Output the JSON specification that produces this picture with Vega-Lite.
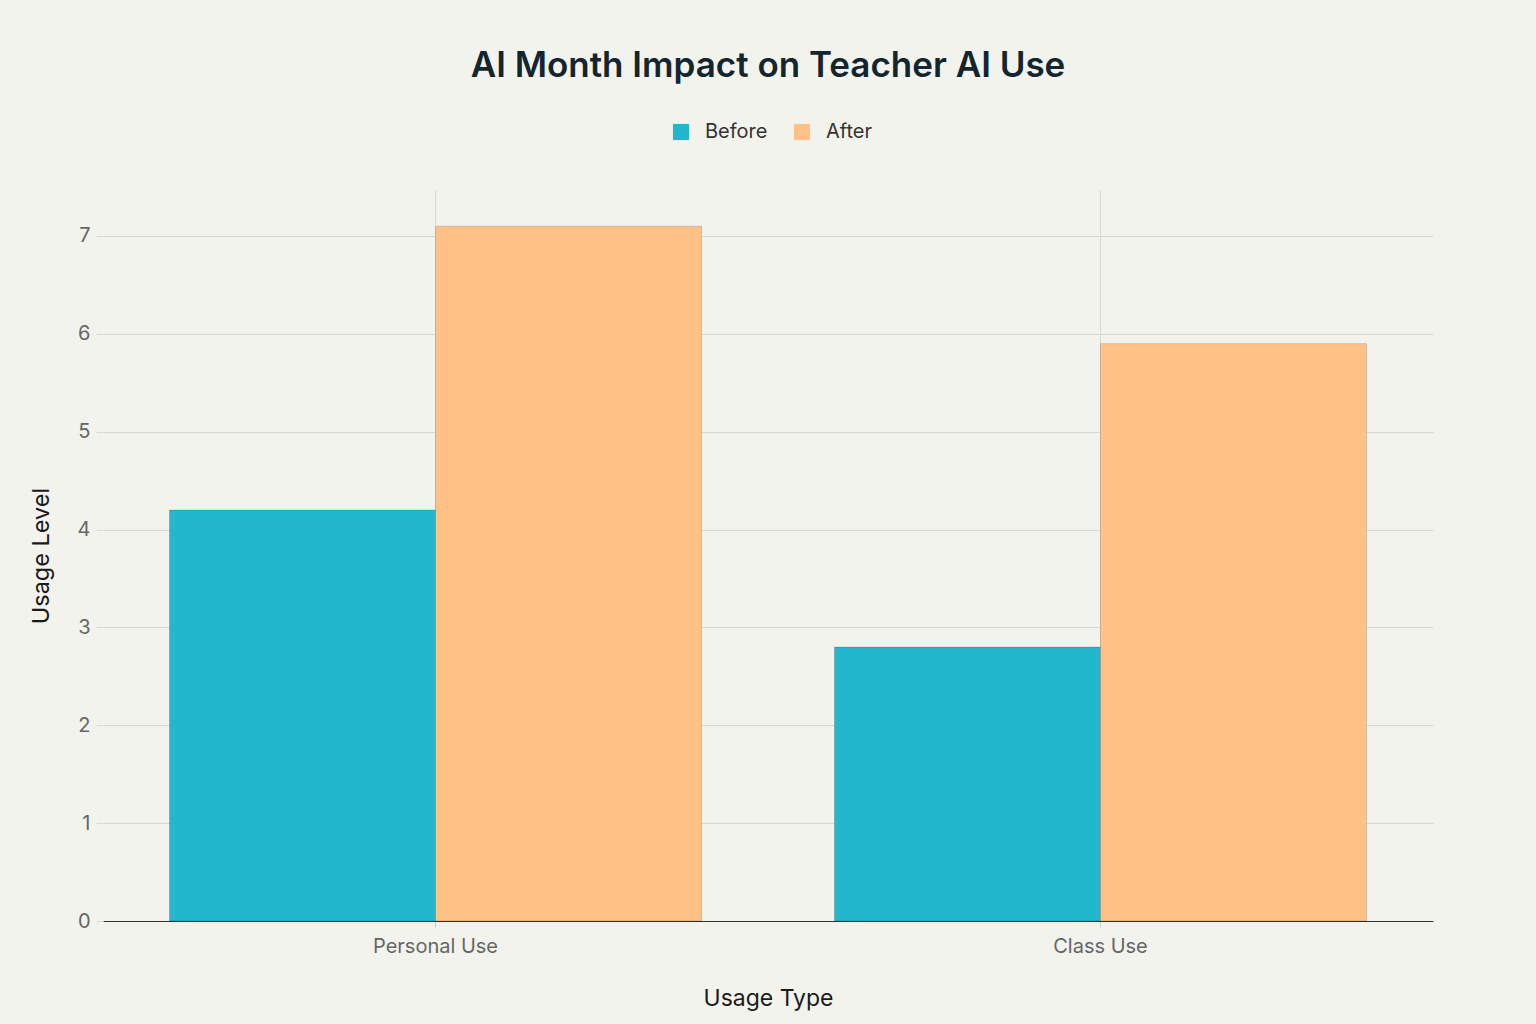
{
  "$schema": "https://vega.github.io/schema/vega-lite/v6.json",
  "width": 1330,
  "height": 731,
  "autosize": {"type": "none"},
  "padding": {"left": 103, "top": 190, "right": 103, "bottom": 103},
  "background": "#F3F3EE",
  "title": {
    "text": "AI Month Impact on Teacher AI Use",
    "fontSize": 35,
    "font": "Inter",
    "fontWeight": 600,
    "color": "#13252E",
    "anchor": "middle",
    "frame": "group",
    "offset": 38
  },
  "data": {
    "values": [
      {"type": "Personal Use", "period": "Before", "value": 4.2},
      {"type": "Personal Use", "period": "After", "value": 7.1},
      {"type": "Class Use", "period": "Before", "value": 2.8},
      {"type": "Class Use", "period": "After", "value": 5.9}
    ]
  },
  "mark": {"type": "bar", "stroke": "#000000", "strokeOpacity": 0.15, "strokeWidth": 1},
  "encoding": {
    "x": {
      "field": "type",
      "type": "nominal",
      "sort": ["Personal Use", "Class Use"],
      "scale": {"paddingInner": 0.2, "paddingOuter": 0.1},
      "axis": {
        "title": "Usage Type",
        "labelAngle": 0,
        "labelFontSize": 20,
        "labelColor": "#666666",
        "labelPadding": 9,
        "titleFontSize": 23,
        "titleFontWeight": 400,
        "titleColor": "#1A1A1A",
        "titlePadding": 31,
        "grid": true,
        "gridColor": "#D8D8D3",
        "domainColor": "#333333",
        "tickColor": "#CCCCCC",
        "tickSize": 6
      }
    },
    "xOffset": {"field": "period", "sort": ["Before", "After"]},
    "y": {
      "field": "value",
      "type": "quantitative",
      "scale": {"domain": [0, 7.47], "nice": false},
      "axis": {
        "title": "Usage Level",
        "values": [0, 1, 2, 3, 4, 5, 6, 7],
        "labelFontSize": 20,
        "labelColor": "#666666",
        "labelPadding": 6,
        "titleFontSize": 23.5,
        "titleFontWeight": 400,
        "titleColor": "#1A1A1A",
        "titlePadding": 24,
        "domain": false,
        "gridColor": "#D8D8D3",
        "tickColor": "#D8D8D3",
        "tickSize": 7
      }
    },
    "color": {
      "field": "period",
      "type": "nominal",
      "sort": ["Before", "After"],
      "scale": {"domain": ["Before", "After"], "range": ["#21B8CE", "#FFC185"]},
      "legend": {
        "title": null,
        "orient": "none",
        "direction": "horizontal",
        "legendX": 568,
        "legendY": -68,
        "symbolType": "square",
        "symbolSize": 260,
        "symbolStrokeWidth": 0,
        "labelFontSize": 20,
        "labelColor": "#333333",
        "labelOffset": 14,
        "columnPadding": 24
      }
    }
  },
  "config": {
    "font": "Inter",
    "view": {"stroke": null}
  }
}
